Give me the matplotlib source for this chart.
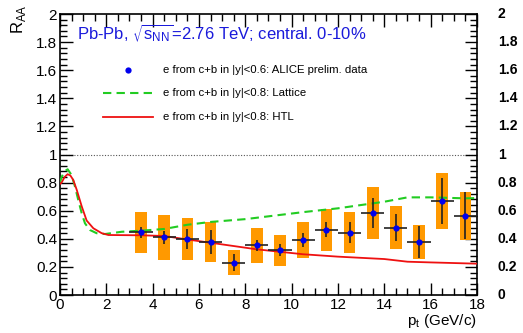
import numpy as np
import matplotlib
matplotlib.use('Agg')
import matplotlib.pyplot as plt
from matplotlib.patches import Rectangle
from matplotlib.ticker import MultipleLocator

plt.rcParams['font.family'] = ['Liberation Sans', 'DejaVu Sans']

# ALICE preliminary data
pt = [3.5, 4.5, 5.5, 6.5, 7.5, 8.5, 9.5, 10.5, 11.5, 12.5, 13.5, 14.5, 15.5, 16.5, 17.5]
raa = [0.446, 0.41, 0.40, 0.377, 0.23, 0.355, 0.32, 0.39, 0.465, 0.443, 0.584, 0.48, 0.375, 0.667, 0.565]
stat = [0.04, 0.045, 0.07, 0.085, 0.06, 0.04, 0.045, 0.05, 0.055, 0.075, 0.11, 0.095, 0.115, 0.165, 0.165]
syst = [0.145, 0.16, 0.15, 0.14, 0.09, 0.125, 0.11, 0.13, 0.15, 0.145, 0.185, 0.15, 0.12, 0.2, 0.17]
pt_err = 0.5
box_half = 0.25

# Lattice model (green dashed)
lat_pt = [0.0, 0.07, 0.2, 0.33, 0.5, 0.65, 0.79, 0.94, 1.08, 1.29, 1.58, 1.94, 2.66, 3.53,
          4.5, 5.5, 6.5, 8.0, 9.0, 10.5, 12.0, 14.0, 15.0, 16.0, 17.5, 18.0]
lat_raa = [0.80, 0.84, 0.88, 0.895, 0.854, 0.77, 0.676, 0.58, 0.51, 0.463, 0.44, 0.434, 0.45, 0.458,
           0.47, 0.50, 0.52, 0.54, 0.56, 0.59, 0.617, 0.664, 0.695, 0.695, 0.688, 0.69]

# HTL model (red)
htl_pt = [0.0, 0.07, 0.2, 0.33, 0.45, 0.57, 0.72, 0.94, 1.15, 1.44, 1.8, 2.09, 3.5, 4.5,
          5.5, 6.5, 8.5, 10.5, 12.0, 14.0, 15.0, 16.0, 18.0]
htl_raa = [0.79, 0.80, 0.84, 0.86, 0.85, 0.82, 0.75, 0.63, 0.53, 0.475, 0.44, 0.427, 0.425, 0.42,
           0.395, 0.372, 0.325, 0.29, 0.273, 0.256, 0.237, 0.232, 0.223]

fig = plt.figure(figsize=(5.23, 3.33), dpi=100)
ax = fig.add_axes([0.1147, 0.1141, 0.7973, 0.8438])

for x, y, s in zip(pt, raa, syst):
    ax.add_patch(Rectangle((x - box_half, y - s), 2 * box_half, 2 * s,
                           facecolor='#ff9900', edgecolor='none', zorder=2))

ax.axhline(1.0, color='#555555', lw=0.8, ls=(0, (1, 1.5)), zorder=1)

ax.plot(lat_pt, lat_raa, color='#22cc22', lw=1.5, ls=(0, (4, 2.5)), zorder=3)
ax.plot(htl_pt, htl_raa, color='#ee1111', lw=1.3, zorder=3)

ax.errorbar(pt, raa, yerr=stat, xerr=pt_err, fmt='none', ecolor='#222222',
            elinewidth=1.2, capsize=0, zorder=4)
ax.plot(pt, raa, 'o', color='#0000ee', ms=4.5, mec='none', zorder=5)

ax.set_xlim(0, 18)
ax.set_ylim(0, 2)
ax.xaxis.set_major_locator(MultipleLocator(2))
ax.xaxis.set_minor_locator(MultipleLocator(0.5))
ax.yaxis.set_major_locator(MultipleLocator(0.2))
ax.yaxis.set_minor_locator(MultipleLocator(0.04))
ax.tick_params(which='both', direction='in', top=True, right=True, labelsize=11, width=1.0)
ax.tick_params(which='major', length=9)
ax.tick_params(which='minor', length=5)
ax.tick_params(axis='y', pad=2)
ax.tick_params(axis='x', pad=2)
ax.yaxis.set_major_formatter(plt.FuncFormatter(lambda v, p: '%g' % round(v, 1)))
ax.xaxis.set_major_formatter(plt.FuncFormatter(lambda v, p: '%g' % v))
for sp in ax.spines.values():
    sp.set_linewidth(1.2)

# right-hand labels
for v in np.arange(0, 2.01, 0.2):
    ax.text(1.05, v / 2, '%g' % round(v, 1), transform=ax.transAxes, ha='left',
            va='center', fontsize=10, fontweight='bold')

fig.text(19 / 523, 1 - 4 / 333, r'R$_{\mathregular{AA}}$', rotation=90,
         ha='center', va='top', fontsize=12)
fig.text(477 / 523, 1 - 321 / 333, r'p$_{\mathregular{t}}$ (GeV/c)',
         ha='right', va='center', fontsize=11)

ax.text(0.04, 0.93, r'Pb-Pb, $\mathregular{\sqrt{s_{NN}}}$=2.76 TeV; central. 0-10%',
        transform=ax.transAxes, ha='left', va='center', fontsize=12, color='#1a1adb')

# legend
ax.plot([2.93], [1.6], 'o', color='#0000ee', ms=4.5, mec='none')
ax.plot([1.85, 4.0], [1.435, 1.435], color='#22cc22', lw=1.5, ls=(0, (4, 2.5)))
ax.plot([1.85, 4.0], [1.27, 1.27], color='#ee1111', lw=1.3)
leg_txt = ['e from c+b in |y|<0.6: ALICE prelim. data',
           'e from c+b in |y|<0.8: Lattice',
           'e from c+b in |y|<0.8: HTL']
for t, y in zip(leg_txt, [1.6, 1.435, 1.27]):
    ax.text(4.45, y, t, ha='left', va='center', fontsize=8.2)

fig.savefig('out.png', dpi=100)
